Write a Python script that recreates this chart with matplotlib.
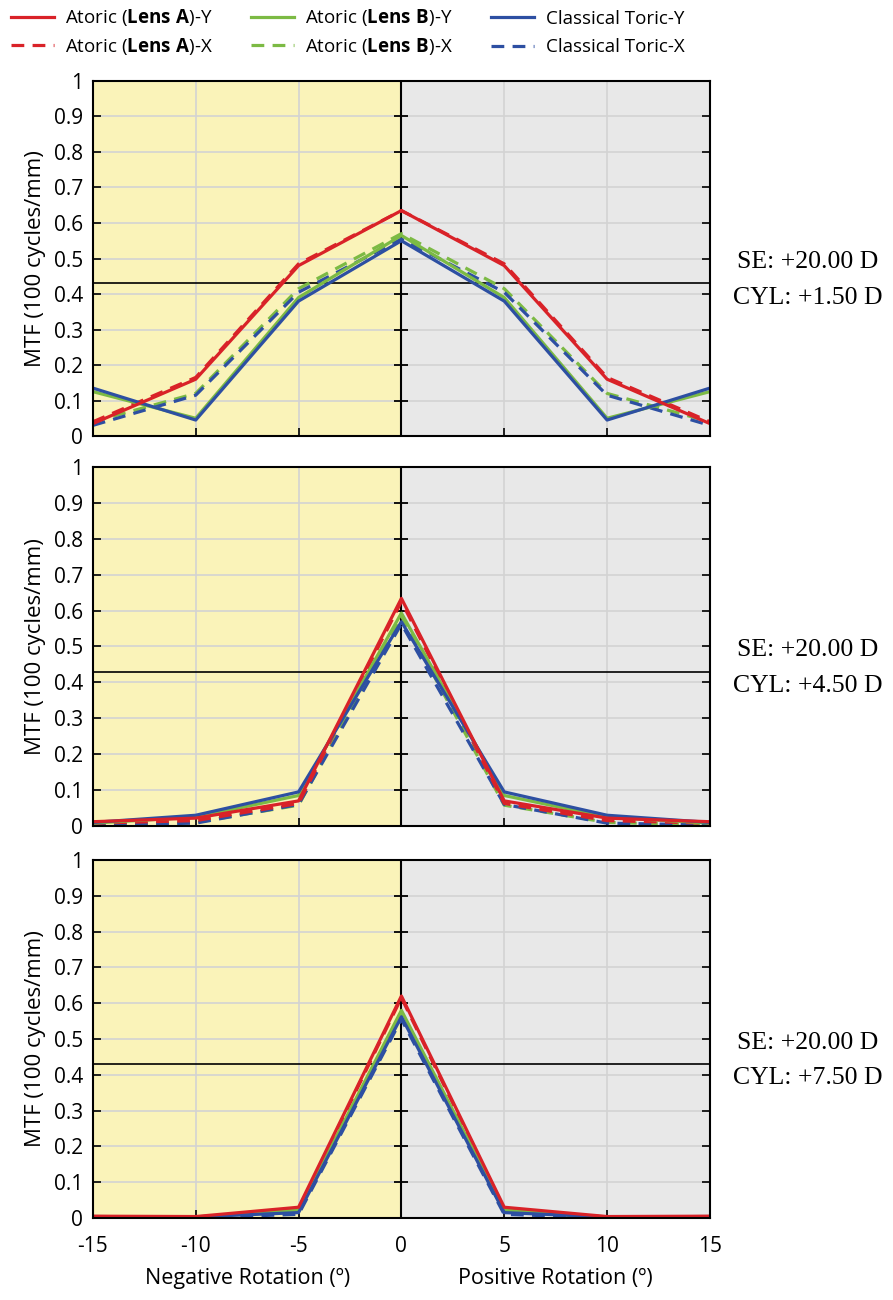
import matplotlib
matplotlib.use("Agg")
import matplotlib.pyplot as plt
from matplotlib.lines import Line2D

rotation = [-15, -10, -5, 0, 5, 10, 15]

# CYL +1.50 D
lens_a_y_1 = [0.035, 0.16, 0.48, 0.635, 0.48, 0.16, 0.035]
lens_a_x_1 = [0.04, 0.165, 0.485, 0.635, 0.485, 0.165, 0.04]
lens_b_y_1 = [0.125, 0.05, 0.39, 0.565, 0.39, 0.05, 0.125]
lens_b_x_1 = [0.04, 0.12, 0.415, 0.57, 0.415, 0.12, 0.04]
toric_y_1 = [0.135, 0.045, 0.38, 0.55, 0.38, 0.045, 0.135]
toric_x_1 = [0.03, 0.115, 0.405, 0.555, 0.405, 0.115, 0.03]

# CYL +4.50 D
lens_a_y_2 = [0.012, 0.022, 0.07, 0.634, 0.07, 0.022, 0.012]
lens_a_x_2 = [0.008, 0.015, 0.063, 0.625, 0.063, 0.015, 0.008]
lens_b_y_2 = [0.008, 0.025, 0.085, 0.593, 0.085, 0.025, 0.008]
lens_b_x_2 = [0.003, 0.01, 0.058, 0.585, 0.058, 0.01, 0.003]
toric_y_2 = [0.01, 0.03, 0.095, 0.569, 0.095, 0.03, 0.01]
toric_x_2 = [0.003, 0.008, 0.06, 0.563, 0.06, 0.008, 0.003]

# CYL +7.50 D
lens_a_y_3 = [0.005, 0.004, 0.03, 0.62, 0.03, 0.004, 0.005]
lens_a_x_3 = [0.003, 0.002, 0.025, 0.615, 0.025, 0.002, 0.003]
lens_b_y_3 = [0.004, 0.003, 0.022, 0.58, 0.022, 0.003, 0.004]
lens_b_x_3 = [0.002, 0.001, 0.018, 0.575, 0.018, 0.001, 0.002]
toric_y_3 = [0.004, 0.003, 0.015, 0.562, 0.015, 0.003, 0.004]
toric_x_3 = [0.002, 0.001, 0.01, 0.555, 0.01, 0.001, 0.002]

panel_texts = [("SE: +20.00 D", "CYL: +1.50 D"),
               ("SE: +20.00 D", "CYL: +4.50 D"),
               ("SE: +20.00 D", "CYL: +7.50 D")]
threshold = 0.43
y_ticks = [0, 0.1, 0.2, 0.3, 0.4, 0.5, 0.6, 0.7, 0.8, 0.9, 1]
y_tick_labels = ["0", "0.1", "0.2", "0.3", "0.4", "0.5", "0.6", "0.7", "0.8", "0.9", "1"]
x_ticks = [-15, -10, -5, 0, 5, 10, 15]

RED = "#d92228"
GREEN = "#7cba44"
BLUE = "#2d4fa2"
YELLOW = "#faf3b9"
GREY = "#e8e8e8"

SANS = ["Open Sans", "DejaVu Sans"]
SERIF = ["Liberation Serif", "DejaVu Serif"]
LW = 2.3
DASH = (0, (4, 2.6))


def draw_panel(ax, series, texts, bottom):
    ax.axvspan(-15, 0, color=YELLOW, zorder=0)
    ax.axvspan(0, 15, color=GREY, zorder=0)
    ax.set_axisbelow(True)
    ax.grid(True, color="#d3d3d3", linewidth=1.2)
    ax.axhline(threshold, color="black", linewidth=1.2, zorder=2)
    ax.axvline(0, color="black", linewidth=1.5, zorder=2)
    # inner tick marks on the centre line
    ax.plot([0] * len(y_ticks), y_ticks, ls="none", marker="_",
            markersize=10, markeredgewidth=1.3, color="black", zorder=2)

    (ay, ax_, by, bx, ty, tx) = series
    ax.plot(rotation, bx, color=GREEN, ls=DASH, lw=LW, zorder=3)
    ax.plot(rotation, tx, color=BLUE, ls=DASH, lw=LW, zorder=3)
    ax.plot(rotation, ax_, color=RED, ls=DASH, lw=LW, zorder=3)
    ax.plot(rotation, by, color=GREEN, lw=LW, zorder=4)
    ax.plot(rotation, ty, color=BLUE, lw=LW, zorder=4)
    ax.plot(rotation, ay, color=RED, lw=LW, zorder=5)

    ax.set_xlim(-15, 15)
    ax.set_ylim(0, 1)
    ax.set_yticks(y_ticks)
    ax.set_yticklabels(y_tick_labels, family=SANS, fontsize=15)
    ax.set_xticks(x_ticks)
    if bottom:
        ax.set_xticklabels([str(t) for t in x_ticks], family=SANS, fontsize=15)
    else:
        ax.set_xticklabels([])
    ax.tick_params(direction="in", length=6, width=1.2, right=True,
                   top=False, color="black")
    ax.tick_params(axis="y", pad=7)
    ax.tick_params(axis="x", pad=13)
    for s in ax.spines.values():
        s.set_linewidth(1.5)
        s.set_zorder(6)
    ax.set_ylabel("MTF (100 cycles/mm)", family=SANS, fontsize=16, labelpad=6)

    ax.text(1.158, 0.49, texts[0], transform=ax.transAxes, ha="center",
            va="center", family=SERIF, fontsize=18.5)
    ax.text(1.158, 0.39, texts[1], transform=ax.transAxes, ha="center",
            va="center", family=SERIF, fontsize=18.5)


def main():
    plt.rcParams["mathtext.fontset"] = "custom"
    plt.rcParams["mathtext.rm"] = "Open Sans"
    plt.rcParams["mathtext.bf"] = "Open Sans:bold"

    fig = plt.figure(figsize=(8.93, 13), dpi=100)
    left, width = 0.104, 0.691
    boxes = [(0.6646, 0.2731), (0.3646, 0.2762), (0.0631, 0.2754)]
    data = [
        (lens_a_y_1, lens_a_x_1, lens_b_y_1, lens_b_x_1, toric_y_1, toric_x_1),
        (lens_a_y_2, lens_a_x_2, lens_b_y_2, lens_b_x_2, toric_y_2, toric_x_2),
        (lens_a_y_3, lens_a_x_3, lens_b_y_3, lens_b_x_3, toric_y_3, toric_x_3),
    ]
    axes = []
    for i, (b, h) in enumerate(boxes):
        ax = fig.add_axes([left, b, width, h])
        draw_panel(ax, data[i], panel_texts[i], i == 2)
        axes.append(ax)

    axes[2].text(-7.5, -0.168, "Negative Rotation (\u00ba)", ha="center", va="center",
                 family=SANS, fontsize=15.5)
    axes[2].text(7.5, -0.168, "Positive Rotation (\u00ba)", ha="center", va="center",
                 family=SANS, fontsize=15.5)

    columns = [
        (RED, r"Atoric ($\mathbf{Lens\ A}$)-Y", r"Atoric ($\mathbf{Lens\ A}$)-X", 0.012, 0.9945, 0.4),
        (GREEN, r"Atoric ($\mathbf{Lens\ B}$)-Y", r"Atoric ($\mathbf{Lens\ B}$)-X", 0.281, 0.9945, 0.4),
        (BLUE, "Classical Toric-Y", "Classical Toric-X", 0.550, 0.9925, 0.55),
    ]
    for color, lab_y, lab_x, xpos, ypos, spacing in columns:
        handles = [Line2D([], [], color=color, lw=LW),
                   Line2D([], [], color=color, lw=LW, ls=DASH)]
        fig.legend(handles, [lab_y, lab_x], loc="upper left",
                   bbox_to_anchor=(xpos, ypos), frameon=False,
                   borderpad=0, borderaxespad=0,
                   prop={"family": SANS, "size": 13.5}, handlelength=2.3,
                   handletextpad=0.6, labelspacing=spacing)

    fig.savefig("out.png", dpi=100)


if __name__ == "__main__":
    main()
